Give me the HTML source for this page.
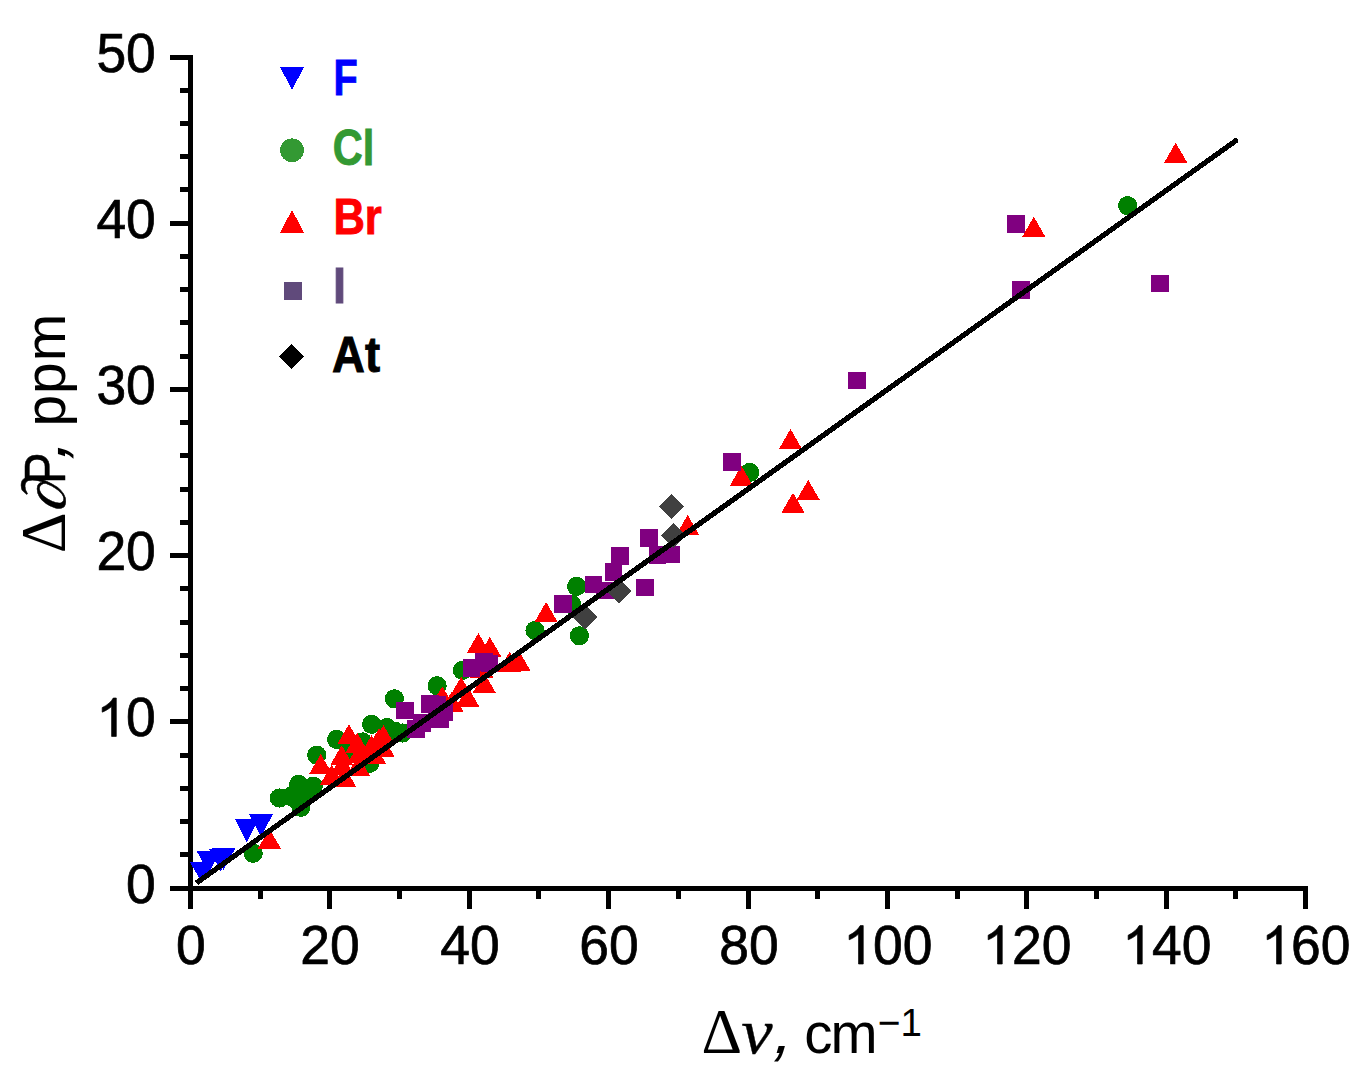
<!DOCTYPE html>
<html><head><meta charset="utf-8"><title>chart</title>
<style>html,body{margin:0;padding:0;background:#fff;}body{width:1367px;height:1087px;overflow:hidden;}svg{display:block;}text{font-family:"Liberation Sans",sans-serif;fill:#000;}.ser{font-family:"Liberation Serif",serif;}</style></head><body>
<svg width="1367" height="1087" viewBox="0 0 1367 1087">
<rect width="1367" height="1087" fill="#fff"/>
<g shape-rendering="crispEdges" fill="#000">
<rect x="188" y="55" width="5" height="854"/>
<rect x="170" y="886" width="1138" height="5"/>
<rect x="170" y="886" width="20" height="5"/>
<rect x="180" y="852" width="10" height="5"/>
<rect x="180" y="819" width="10" height="5"/>
<rect x="180" y="786" width="10" height="5"/>
<rect x="180" y="753" width="10" height="5"/>
<rect x="170" y="719" width="20" height="5"/>
<rect x="180" y="686" width="10" height="5"/>
<rect x="180" y="653" width="10" height="5"/>
<rect x="180" y="620" width="10" height="5"/>
<rect x="180" y="586" width="10" height="5"/>
<rect x="170" y="553" width="20" height="5"/>
<rect x="180" y="520" width="10" height="5"/>
<rect x="180" y="487" width="10" height="5"/>
<rect x="180" y="453" width="10" height="5"/>
<rect x="180" y="420" width="10" height="5"/>
<rect x="170" y="387" width="20" height="5"/>
<rect x="180" y="354" width="10" height="5"/>
<rect x="180" y="320" width="10" height="5"/>
<rect x="180" y="287" width="10" height="5"/>
<rect x="180" y="254" width="10" height="5"/>
<rect x="170" y="221" width="20" height="5"/>
<rect x="180" y="187" width="10" height="5"/>
<rect x="180" y="154" width="10" height="5"/>
<rect x="180" y="121" width="10" height="5"/>
<rect x="180" y="88" width="10" height="5"/>
<rect x="170" y="55" width="20" height="5"/>
<rect x="188" y="888" width="5" height="21"/>
<rect x="258" y="888" width="5" height="11"/>
<rect x="327" y="888" width="5" height="21"/>
<rect x="397" y="888" width="5" height="11"/>
<rect x="467" y="888" width="5" height="21"/>
<rect x="536" y="888" width="5" height="11"/>
<rect x="606" y="888" width="5" height="21"/>
<rect x="676" y="888" width="5" height="11"/>
<rect x="746" y="888" width="5" height="21"/>
<rect x="815" y="888" width="5" height="11"/>
<rect x="885" y="888" width="5" height="21"/>
<rect x="955" y="888" width="5" height="11"/>
<rect x="1024" y="888" width="5" height="21"/>
<rect x="1094" y="888" width="5" height="11"/>
<rect x="1164" y="888" width="5" height="21"/>
<rect x="1233" y="888" width="5" height="11"/>
<rect x="1303" y="888" width="5" height="21"/>
</g>
<g shape-rendering="crispEdges">
<g fill="#008000">
<circle cx="253.2" cy="853.3" r="9.6"/>
<circle cx="279.3" cy="798.0" r="9.6"/>
<circle cx="298.6" cy="784.4" r="9.6"/>
<circle cx="313.3" cy="786.2" r="9.6"/>
<circle cx="300.9" cy="807.3" r="9.6"/>
<circle cx="305.5" cy="795.2" r="9.6"/>
<circle cx="297.0" cy="800.0" r="9.6"/>
<circle cx="291.0" cy="796.4" r="9.6"/>
<circle cx="316.7" cy="755.2" r="9.6"/>
<circle cx="336.6" cy="739.4" r="9.6"/>
<circle cx="371.6" cy="724.3" r="9.6"/>
<circle cx="386.9" cy="727.5" r="9.6"/>
<circle cx="394.4" cy="698.8" r="9.6"/>
<circle cx="369.7" cy="763.3" r="9.6"/>
<circle cx="362.6" cy="741.9" r="9.6"/>
<circle cx="402.4" cy="733.0" r="9.6"/>
<circle cx="348.3" cy="751.8" r="9.6"/>
<circle cx="395.4" cy="731.5" r="9.6"/>
<circle cx="437.1" cy="685.7" r="9.6"/>
<circle cx="462.5" cy="670.3" r="9.6"/>
<circle cx="535.0" cy="630.5" r="9.6"/>
<circle cx="576.6" cy="586.4" r="9.6"/>
<circle cx="579.4" cy="635.8" r="9.6"/>
<circle cx="571.7" cy="604.6" r="9.6"/>
<circle cx="749.7" cy="472.4" r="9.6"/>
<circle cx="1127.6" cy="205.6" r="9.6"/>
</g>
<g fill="#0000ff">
<path d="M189.8 862.0h23.6l-11.8 20.0z"/>
<path d="M196.7 851.0h23.6l-11.8 22.5z"/>
<path d="M208.9 849.2h23.6l-11.8 22.0z"/>
<path d="M211.8 848.0h23.6l-11.8 22.0z"/>
<path d="M235.0 819.0h23.6l-11.8 23.5z"/>
<path d="M249.2 814.1h23.6l-11.8 23.0z"/>
</g>
<g fill="#ff0000">
<path d="M269.4 828.7l11.7 20.2h-23.4z"/>
<path d="M320.7 754.0l11.7 20.2h-23.4z"/>
<path d="M348.9 724.2l11.7 20.2h-23.4z"/>
<path d="M383.4 725.1l11.7 20.2h-23.4z"/>
<path d="M383.3 737.2l11.7 20.2h-23.4z"/>
<path d="M374.2 743.3l11.7 20.2h-23.4z"/>
<path d="M358.2 755.5l11.7 20.2h-23.4z"/>
<path d="M344.4 766.5l11.7 20.2h-23.4z"/>
<path d="M331.7 764.6l11.7 20.2h-23.4z"/>
<path d="M357.1 732.5l11.7 20.2h-23.4z"/>
<path d="M371.5 735.3l11.7 20.2h-23.4z"/>
<path d="M379.2 728.1l11.7 20.2h-23.4z"/>
<path d="M341.7 745.2l11.7 20.2h-23.4z"/>
<path d="M342.2 754.6l11.7 20.2h-23.4z"/>
<path d="M359.3 743.0l11.7 20.2h-23.4z"/>
<path d="M478.4 633.0l11.7 20.2h-23.4z"/>
<path d="M489.8 636.9l11.7 20.2h-23.4z"/>
<path d="M461.1 676.8l11.7 20.2h-23.4z"/>
<path d="M442.3 686.2l11.7 20.2h-23.4z"/>
<path d="M484.2 672.8l11.7 20.2h-23.4z"/>
<path d="M467.7 686.6l11.7 20.2h-23.4z"/>
<path d="M451.7 691.5l11.7 20.2h-23.4z"/>
<path d="M481.5 657.3l11.7 20.2h-23.4z"/>
<path d="M518.7 650.4l11.7 20.2h-23.4z"/>
<path d="M509.6 651.8l11.7 20.2h-23.4z"/>
<path d="M546.1 602.0l11.7 20.2h-23.4z"/>
<path d="M687.7 515.0l11.7 20.2h-23.4z"/>
<path d="M741.4 465.8l11.7 20.2h-23.4z"/>
<path d="M790.5 429.0l11.7 20.2h-23.4z"/>
<path d="M808.2 479.9l11.7 20.2h-23.4z"/>
<path d="M793.0 492.7l11.7 20.2h-23.4z"/>
<path d="M1033.8 216.8l11.7 20.2h-23.4z"/>
<path d="M1175.7 142.7l11.7 20.2h-23.4z"/>
</g>
<g fill="#800080">
<rect x="396.1" y="701.5" width="17.8" height="17.8"/>
<rect x="420.9" y="695.0" width="17.8" height="17.8"/>
<rect x="428.4" y="696.0" width="17.8" height="17.8"/>
<rect x="407.0" y="719.8" width="17.8" height="17.8"/>
<rect x="413.3" y="713.7" width="17.8" height="17.8"/>
<rect x="431.4" y="710.1" width="17.8" height="17.8"/>
<rect x="435.2" y="703.0" width="17.8" height="17.8"/>
<rect x="462.6" y="659.1" width="17.8" height="17.8"/>
<rect x="474.8" y="653.0" width="17.8" height="17.8"/>
<rect x="480.5" y="654.6" width="17.8" height="17.8"/>
<rect x="553.7" y="595.1" width="17.8" height="17.8"/>
<rect x="584.6" y="575.5" width="17.8" height="17.8"/>
<rect x="604.6" y="563.1" width="17.8" height="17.8"/>
<rect x="611.1" y="547.0" width="17.8" height="17.8"/>
<rect x="595.9" y="581.5" width="17.8" height="17.8"/>
<rect x="636.0" y="578.5" width="17.8" height="17.8"/>
<rect x="639.7" y="529.0" width="17.8" height="17.8"/>
<rect x="648.5" y="546.3" width="17.8" height="17.8"/>
<rect x="662.3" y="545.5" width="17.8" height="17.8"/>
<rect x="723.1" y="453.1" width="17.8" height="17.8"/>
<rect x="848.1" y="371.5" width="17.8" height="17.8"/>
<rect x="1007.3" y="215.2" width="17.8" height="17.8"/>
<rect x="1012.2" y="280.7" width="17.8" height="17.8"/>
<rect x="1150.7" y="274.5" width="17.8" height="17.8"/>
</g>
<g fill="#404040">
<path d="M584.9 604.9l12.4 12.4l-12.4 12.4l-12.4 -12.4z"/>
<path d="M619.1 578.9l12.4 12.4l-12.4 12.4l-12.4 -12.4z"/>
<path d="M671.5 493.8l12.4 12.4l-12.4 12.4l-12.4 -12.4z"/>
<path d="M673.5 523.1l12.4 12.4l-12.4 12.4l-12.4 -12.4z"/>
</g>
<line x1="196.5" y1="882.95" x2="1235.6" y2="140.9" stroke="#000" stroke-width="5.3" stroke-linecap="butt"/>
<circle cx="1235.6" cy="140.9" r="2.7" fill="#000"/>
</g>
<text transform="translate(126.10 903.40) scale(1 1.04)" font-size="53.4" stroke="#000" stroke-width="0.7">0</text>
<path d="M763 0H583V1147Q518 1085 412.5 1023T223 930V1104Q373 1174.5 485.5 1275T647 1472H763Z" transform="translate(96.40 736.40) scale(0.02607 -0.02607)" fill="#000" stroke="#000" stroke-width="26.8"/>
<text transform="translate(126.10 736.40) scale(1 1.04)" font-size="53.4" stroke="#000" stroke-width="0.7">0</text>
<text transform="translate(96.40 570.40) scale(1 1.04)" font-size="53.4" stroke="#000" stroke-width="0.7">2</text>
<text transform="translate(126.10 570.40) scale(1 1.04)" font-size="53.4" stroke="#000" stroke-width="0.7">0</text>
<text transform="translate(96.40 404.40) scale(1 1.04)" font-size="53.4" stroke="#000" stroke-width="0.7">3</text>
<text transform="translate(126.10 404.40) scale(1 1.04)" font-size="53.4" stroke="#000" stroke-width="0.7">0</text>
<text transform="translate(96.40 238.40) scale(1 1.04)" font-size="53.4" stroke="#000" stroke-width="0.7">4</text>
<text transform="translate(126.10 238.40) scale(1 1.04)" font-size="53.4" stroke="#000" stroke-width="0.7">0</text>
<text transform="translate(96.40 72.40) scale(1 1.04)" font-size="53.4" stroke="#000" stroke-width="0.7">5</text>
<text transform="translate(126.10 72.40) scale(1 1.04)" font-size="53.4" stroke="#000" stroke-width="0.7">0</text>
<text transform="translate(176.05 964.00) scale(1 1.04)" font-size="53.4" stroke="#000" stroke-width="0.7">0</text>
<text transform="translate(300.20 964.00) scale(1 1.04)" font-size="53.4" stroke="#000" stroke-width="0.7">2</text>
<text transform="translate(329.90 964.00) scale(1 1.04)" font-size="53.4" stroke="#000" stroke-width="0.7">0</text>
<text transform="translate(440.20 964.00) scale(1 1.04)" font-size="53.4" stroke="#000" stroke-width="0.7">4</text>
<text transform="translate(469.90 964.00) scale(1 1.04)" font-size="53.4" stroke="#000" stroke-width="0.7">0</text>
<text transform="translate(579.20 964.00) scale(1 1.04)" font-size="53.4" stroke="#000" stroke-width="0.7">6</text>
<text transform="translate(608.90 964.00) scale(1 1.04)" font-size="53.4" stroke="#000" stroke-width="0.7">0</text>
<text transform="translate(719.20 964.00) scale(1 1.04)" font-size="53.4" stroke="#000" stroke-width="0.7">8</text>
<text transform="translate(748.90 964.00) scale(1 1.04)" font-size="53.4" stroke="#000" stroke-width="0.7">0</text>
<path d="M763 0H583V1147Q518 1085 412.5 1023T223 930V1104Q373 1174.5 485.5 1275T647 1472H763Z" transform="translate(843.35 964.00) scale(0.02607 -0.02607)" fill="#000" stroke="#000" stroke-width="26.8"/>
<text transform="translate(873.05 964.00) scale(1 1.04)" font-size="53.4" stroke="#000" stroke-width="0.7">0</text>
<text transform="translate(902.75 964.00) scale(1 1.04)" font-size="53.4" stroke="#000" stroke-width="0.7">0</text>
<path d="M763 0H583V1147Q518 1085 412.5 1023T223 930V1104Q373 1174.5 485.5 1275T647 1472H763Z" transform="translate(982.35 964.00) scale(0.02607 -0.02607)" fill="#000" stroke="#000" stroke-width="26.8"/>
<text transform="translate(1012.05 964.00) scale(1 1.04)" font-size="53.4" stroke="#000" stroke-width="0.7">2</text>
<text transform="translate(1041.75 964.00) scale(1 1.04)" font-size="53.4" stroke="#000" stroke-width="0.7">0</text>
<path d="M763 0H583V1147Q518 1085 412.5 1023T223 930V1104Q373 1174.5 485.5 1275T647 1472H763Z" transform="translate(1122.35 964.00) scale(0.02607 -0.02607)" fill="#000" stroke="#000" stroke-width="26.8"/>
<text transform="translate(1152.05 964.00) scale(1 1.04)" font-size="53.4" stroke="#000" stroke-width="0.7">4</text>
<text transform="translate(1181.75 964.00) scale(1 1.04)" font-size="53.4" stroke="#000" stroke-width="0.7">0</text>
<path d="M763 0H583V1147Q518 1085 412.5 1023T223 930V1104Q373 1174.5 485.5 1275T647 1472H763Z" transform="translate(1261.35 964.00) scale(0.02607 -0.02607)" fill="#000" stroke="#000" stroke-width="26.8"/>
<text transform="translate(1291.05 964.00) scale(1 1.04)" font-size="53.4" stroke="#000" stroke-width="0.7">6</text>
<text transform="translate(1320.75 964.00) scale(1 1.04)" font-size="53.4" stroke="#000" stroke-width="0.7">0</text>
<g font-size="56.5">
<text class="ser" x="701.6" y="1052.7" font-size="63">&#916;</text>
<text class="ser" transform="translate(741.2 1052.9) scale(1.12 1.02)" font-size="63" font-style="italic" stroke="#000" stroke-width="0.35">&#957;</text>
<text transform="translate(770.6 1052.7) skewX(-16)" font-size="66">,</text>
<text x="804.3" y="1052.7">c</text>
<text x="830.6" y="1052.7">m</text>
<text x="877.7" y="1035.5" font-size="39">&#8722;</text>
<text x="900.4" y="1036" font-size="38.5">1</text>
</g>
<g transform="translate(64.9 0) rotate(-90)" font-size="57">
<text class="ser" x="-553.3" y="0" font-size="63.5">&#916;</text>
<text class="ser" transform="translate(-512.5 0) skewX(-14)" font-size="61" font-style="italic" stroke="#000" stroke-width="0.5">&#8706;</text>
<text transform="translate(-484.1 0) scale(0.83 1)" stroke="#000" stroke-width="0.5">P</text>
<text transform="translate(-462.3 0) skewX(-16)" font-size="66">,</text>
<text x="-426.6" y="0" letter-spacing="1">ppm</text>
</g>
<g shape-rendering="crispEdges">
<path d="M279.9 67h24.3l-12.15 22.7z" fill="#0000ff"/>
<circle cx="292" cy="150.3" r="11.9" fill="#339933"/>
<path d="M292 210l12.15 22.8h-24.3z" fill="#ff0000"/>
<rect x="284" y="282" width="18.1" height="18.1" fill="#604a7b"/>
<path d="M291.5 343.8l12.7 12.65l-12.7 12.65l-12.7 -12.65z" fill="#000"/>
</g>
<g font-size="49.5" font-weight="bold">
<text transform="translate(333.6 95.2) scale(0.8 1)" style="fill:#0000ff;stroke:#0000ff;stroke-width:0.9">F</text>
<text transform="translate(332.7 165.0) scale(0.84 1)" style="fill:#339933;stroke:#339933;stroke-width:0.9">Cl</text>
<text transform="translate(333.4 233.8) scale(0.88 1)" style="fill:#ff0000;stroke:#ff0000;stroke-width:0.9">Br</text>
<text transform="translate(333.1 302.8) scale(0.95 1)" style="fill:#604a7b;stroke:#604a7b;stroke-width:0.9">I</text>
<text transform="translate(332.1 371.5) scale(0.92 1)" style="fill:#000;stroke:#000;stroke-width:0.9">At</text>
</g>
</svg></body></html>
